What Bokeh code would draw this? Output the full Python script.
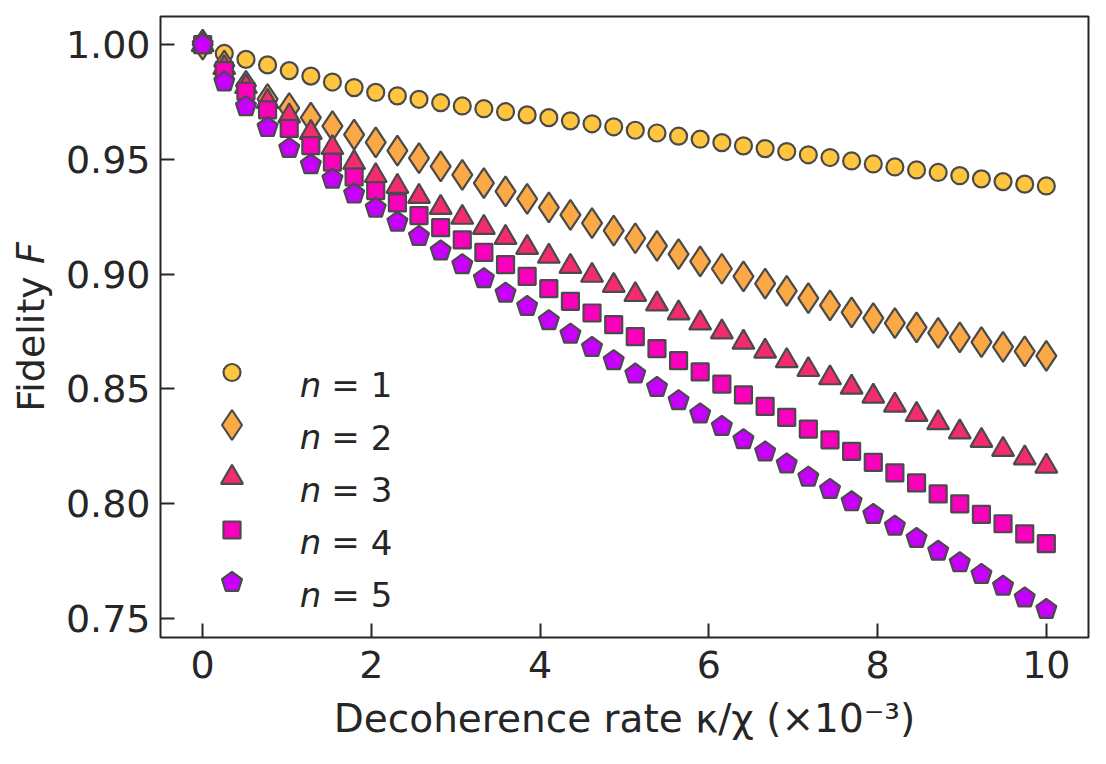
import numpy as np
from bokeh.plotting import figure
from bokeh.models import Range1d, FixedTicker, PrintfTickFormatter
from bokeh.embed import file_html
from bokeh.resources import INLINE
from bokeh.core.properties import value

# decoherence rate kappa/chi (x 1e-3)
kappa = [0.000, 0.256, 0.513, 0.769, 1.026, 1.282, 1.538, 1.795, 2.051, 2.308,
         2.564, 2.821, 3.077, 3.333, 3.590, 3.846, 4.103, 4.359, 4.615, 4.872,
         5.128, 5.385, 5.641, 5.897, 6.154, 6.410, 6.667, 6.923, 7.179, 7.436,
         7.692, 7.949, 8.205, 8.462, 8.718, 8.974, 9.231, 9.487, 9.744, 10.000]

fid_n1 = [1.0000, 0.9962, 0.9936, 0.9912, 0.9887, 0.9863, 0.9837, 0.9813, 0.9792, 0.9777,
          0.9762, 0.9747, 0.9733, 0.9721, 0.9708, 0.9694, 0.9682, 0.9668, 0.9655, 0.9642,
          0.9627, 0.9615, 0.9601, 0.9588, 0.9573, 0.9559, 0.9547, 0.9534, 0.9520, 0.9508,
          0.9493, 0.9480, 0.9467, 0.9454, 0.9443, 0.9429, 0.9415, 0.9403, 0.9392, 0.9384]

fid_n2 = [1.0000, 0.9909, 0.9821, 0.9763, 0.9723, 0.9682, 0.9645, 0.9608, 0.9574, 0.9538,
          0.9505, 0.9469, 0.9432, 0.9396, 0.9360, 0.9328, 0.9291, 0.9258, 0.9222, 0.9189,
          0.9156, 0.9123, 0.9087, 0.9055, 0.9023, 0.8990, 0.8958, 0.8927, 0.8895, 0.8863,
          0.8833, 0.8808, 0.8786, 0.8767, 0.8743, 0.8724, 0.8703, 0.8682, 0.8663, 0.8643]

fid_n3 = [1.0000, 0.9900, 0.9817, 0.9752, 0.9689, 0.9617, 0.9551, 0.9486, 0.9429, 0.9382,
          0.9338, 0.9290, 0.9247, 0.9203, 0.9159, 0.9116, 0.9077, 0.9033, 0.8994, 0.8950,
          0.8910, 0.8869, 0.8830, 0.8786, 0.8747, 0.8702, 0.8663, 0.8622, 0.8583, 0.8547,
          0.8506, 0.8467, 0.8428, 0.8387, 0.8351, 0.8311, 0.8274, 0.8235, 0.8198, 0.8162]

fid_n4 = [1.0000, 0.9887, 0.9797, 0.9716, 0.9635, 0.9560, 0.9488, 0.9423, 0.9364, 0.9310,
          0.9255, 0.9202, 0.9149, 0.9094, 0.9041, 0.8990, 0.8936, 0.8881, 0.8830, 0.8779,
          0.8727, 0.8675, 0.8622, 0.8573, 0.8520, 0.8473, 0.8423, 0.8375, 0.8324, 0.8277,
          0.8227, 0.8179, 0.8133, 0.8089, 0.8041, 0.7998, 0.7952, 0.7911, 0.7867, 0.7824]

fid_n5 = [1.0000, 0.9838, 0.9730, 0.9639, 0.9548, 0.9477, 0.9414, 0.9349, 0.9287, 0.9226,
          0.9164, 0.9101, 0.9041, 0.8980, 0.8917, 0.8859, 0.8797, 0.8738, 0.8680, 0.8622,
          0.8564, 0.8506, 0.8448, 0.8390, 0.8336, 0.8278, 0.8224, 0.8172, 0.8114, 0.8061,
          0.8007, 0.7952, 0.7901, 0.7847, 0.7792, 0.7741, 0.7690, 0.7639, 0.7588, 0.7538]

series_labels = ["1", "2", "3", "4", "5"]
x_ticks = [0, 2, 4, 6, 8, 10]
y_ticks = [0.75, 0.80, 0.85, 0.90, 0.95, 1.00]
x_title = "Decoherence rate κ/χ (×10⁻³)"
y_title = "Fidelity 𝘍"

# styling
COLORS = ["#FFC53F", "#FBA846", "#F42C6F", "#FA00BD", "#C700FB"]
EDGE = "#4a4a4a"
INK = "#262626"
FONT = "DejaVu Sans"

W, H = 1106, 764
LEFT, RIGHT, TOP, BOTTOM = 160, 18, 16, 127
FW, FH = W - LEFT - RIGHT, H - TOP - BOTTOM

p = figure(width=W, height=H, output_backend="svg", toolbar_location=None,
           x_range=Range1d(-0.5, 10.5), y_range=Range1d(0.7415, 1.0123),
           min_border_left=LEFT, min_border_right=RIGHT,
           min_border_top=TOP, min_border_bottom=BOTTOM)
p.background_fill_color = "white"
p.border_fill_color = "white"
p.grid.visible = False
p.outline_line_color = INK
p.outline_line_width = 2

for ax in (p.xaxis, p.yaxis):
    ax.axis_line_color = None
    ax.major_tick_in = 14
    ax.major_tick_out = 0
    ax.minor_tick_line_color = None
    ax.major_tick_line_color = INK
    ax.major_tick_line_width = 2
    ax.major_label_text_font = FONT
    ax.major_label_text_font_size = "38px"
    ax.major_label_text_color = INK
    ax.axis_label_text_font = FONT
    ax.axis_label_text_font_size = "38px"
    ax.axis_label_text_font_style = "normal"
    ax.axis_label_text_color = INK
p.xaxis.ticker = FixedTicker(ticks=x_ticks)
p.yaxis.ticker = FixedTicker(ticks=y_ticks)
p.yaxis.formatter = PrintfTickFormatter(format="%.2f")
p.xaxis.major_label_standoff = 13
p.yaxis.major_label_standoff = 10
p.xaxis.axis_label = x_title
p.yaxis.axis_label = y_title
p.xaxis.axis_label_text_font_size = "39px"
p.xaxis.axis_label_standoff = 15
p.yaxis.axis_label_standoff = 10

# pixel-space ranges for the in-plot legend
p.extra_x_ranges = {"px": Range1d(0, FW)}
p.extra_y_ranges = {"px": Range1d(0, FH)}

common = dict(line_color=EDGE, line_width=2.2)
SIZES = dict(circle=17, diamond=30, triangle=22, square=17)
PENT_R = 10.5
PENT_ANGLE = 0.0
p.scatter(kappa, fid_n1, marker="circle", size=SIZES["circle"], fill_color=COLORS[0], **common)
p.scatter(kappa, fid_n2, marker="diamond", size=SIZES["diamond"], fill_color=COLORS[1], **common)
p.scatter(kappa, fid_n3, marker="triangle", size=SIZES["triangle"], fill_color=COLORS[2], **common)
p.scatter(kappa, fid_n4, marker="square", size=SIZES["square"], fill_color=COLORS[3], **common)
p.ngon(kappa, fid_n5, radius=PENT_R, radius_units="screen", n=5, angle=PENT_ANGLE,
       fill_color=COLORS[4], **common)

# legend keys and labels
key_x = 71.5
row_top = 265.0
row_gap = 52.5
leg = dict(x_range_name="px", y_range_name="px")
rows = [row_top - i * row_gap for i in range(5)]
p.scatter([key_x], [rows[0]], marker="circle", size=SIZES["circle"], fill_color=COLORS[0], **common, **leg)
p.scatter([key_x], [rows[1]], marker="diamond", size=SIZES["diamond"], fill_color=COLORS[1], **common, **leg)
p.scatter([key_x], [rows[2]], marker="triangle", size=SIZES["triangle"], fill_color=COLORS[2], **common, **leg)
p.scatter([key_x], [rows[3]], marker="square", size=SIZES["square"], fill_color=COLORS[3], **common, **leg)
p.ngon([key_x], [rows[4]], radius=PENT_R, radius_units="screen", n=5, angle=PENT_ANGLE,
       fill_color=COLORS[4], **common, **leg)

LEG_FS = 34
base = [r - 0.729 * LEG_FS / 2 for r in rows]
txt = dict(text_font=value(FONT), text_font_size=f"{LEG_FS}px", text_color=INK,
           text_baseline="alphabetic", text_align="center", **leg)
p.text([150.0] * 5, base, text=["n"] * 5, text_font_style="italic", **txt)
p.text([185.0] * 5, base, text=["="] * 5, **txt)
p.text([221.0] * 5, base, text=series_labels, **txt)

open("out.html", "w").write(file_html(p, INLINE))
